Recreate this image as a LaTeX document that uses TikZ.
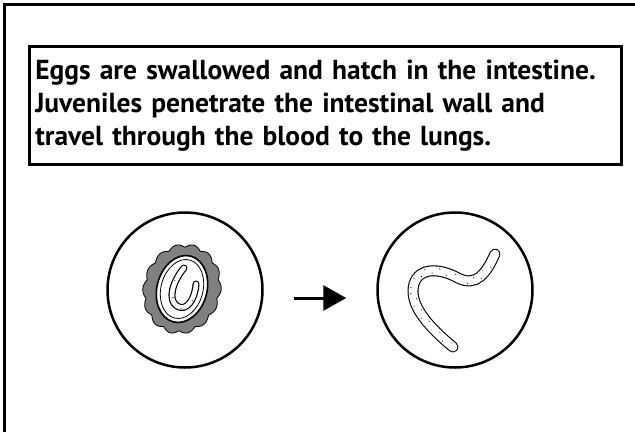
\documentclass[tikz,border=0pt]{standalone}
\usepackage{fontspec}
\setsansfont{PT Sans}
\usetikzlibrary{arrows.meta}

\begin{document}
\begin{tikzpicture}[x=1pt,y=-1pt,>={Triangle[length=23pt,width=25pt]},
    font=\sffamily\bfseries,
    lens/.style={circle,draw=black,line width=2.5pt,minimum size=155pt,inner sep=0pt},
    notebox/.style={draw=black,line width=2.5pt,anchor=north west,minimum width=591pt,minimum height=118pt,
        text width=580pt,align=left,inner sep=6pt,font=\fontsize{27.5}{33}\sffamily\bfseries},
    speck/.style={circle,fill=black,draw=none,inner sep=0pt,minimum size=1.2pt,outer sep=1.7pt,sloped}]
        \useasboundingbox (0,0) rectangle (635,432);
        \draw [line width=3pt] (4,432) -- (4,4) -- (635,4);

        \node [notebox] at (28,45) (note) {Eggs are swallowed and hatch in the intestine.\\
            Juveniles penetrate the intestinal wall and\\
            travel through the blood to the lungs.};

        \node [lens] at (185,290) (egg) {};
        \node [lens] at (455,290) (larva) {};

        % egg with scalloped shell
        \begin{scope}[shift={(182,289)},rotate=-15]
        \fill [black!50, draw=black, line width=0.8pt] plot [domain=0:360, samples=241, smooth cycle]
            ({36*cos(\x)*(1+0.08*abs(sin(7*\x)))},{42*sin(\x)*(1+0.08*abs(sin(7*\x)))});
        \draw [fill=white, line width=1.6pt] (0,0) ellipse (25pt and 34pt);
        \draw [line width=0.8pt] (0,0) ellipse (21pt and 30pt);
        \end{scope}
        \draw [line width=7pt, line cap=round] (184,268) .. controls (173,281) and (167,300) .. (177,306)
            .. controls (186,312) and (195,300) .. (196,284);
        \draw [line width=4.6pt, white, line cap=round] (184,268) .. controls (173,281) and (167,300) .. (177,306)
            .. controls (186,312) and (195,300) .. (196,284);
        \path (184,268) .. controls (173,281) and (167,300) .. (177,306)
                foreach \t in {0.3,0.7} {node [speck,outer sep=0.4pt,pos=\t,anchor=south] {}}
            .. controls (186,312) and (195,300) .. (196,284)
                foreach \t in {0.15,0.6} {node [speck,outer sep=0.4pt,pos=\t,anchor=north] {}};

        % juvenile worm
        \draw [line width=11pt, line cap=round] (453,347) .. controls (430,328) and (408,305) .. (414,284)
            .. controls (419,267) and (440,268) .. (458,278) .. controls (476,287) and (486,274) .. (495,254);
        \draw [line width=8.8pt, white, line cap=round] (453,347) .. controls (430,328) and (408,305) .. (414,284)
            .. controls (419,267) and (440,268) .. (458,278) .. controls (476,287) and (486,274) .. (495,254);
        \path (453,347) .. controls (430,328) and (408,305) .. (414,284)
                foreach \t in {0.04,0.22,0.4,0.58,0.76,0.94} {node [speck,pos=\t,anchor=south] {}}
                foreach \t in {0.13,0.31,0.49,0.67,0.85} {node [speck,pos=\t,anchor=north] {}}
            .. controls (419,267) and (440,268) .. (458,278)
                foreach \t in {0.1,0.38,0.66,0.94} {node [speck,pos=\t,anchor=south] {}}
                foreach \t in {0.24,0.52,0.8} {node [speck,pos=\t,anchor=north] {}}
            .. controls (476,287) and (486,274) .. (495,254)
                foreach \t in {0.2,0.5,0.78} {node [speck,pos=\t,anchor=north] {}}
                foreach \t in {0.35,0.64} {node [speck,pos=\t,anchor=south] {}};

        \draw [->, line width=3pt, shorten <=30pt, shorten >=30pt] ([yshift=-8pt]egg.east) -- ([yshift=-8pt]larva.west);
\end{tikzpicture}
\end{document}
